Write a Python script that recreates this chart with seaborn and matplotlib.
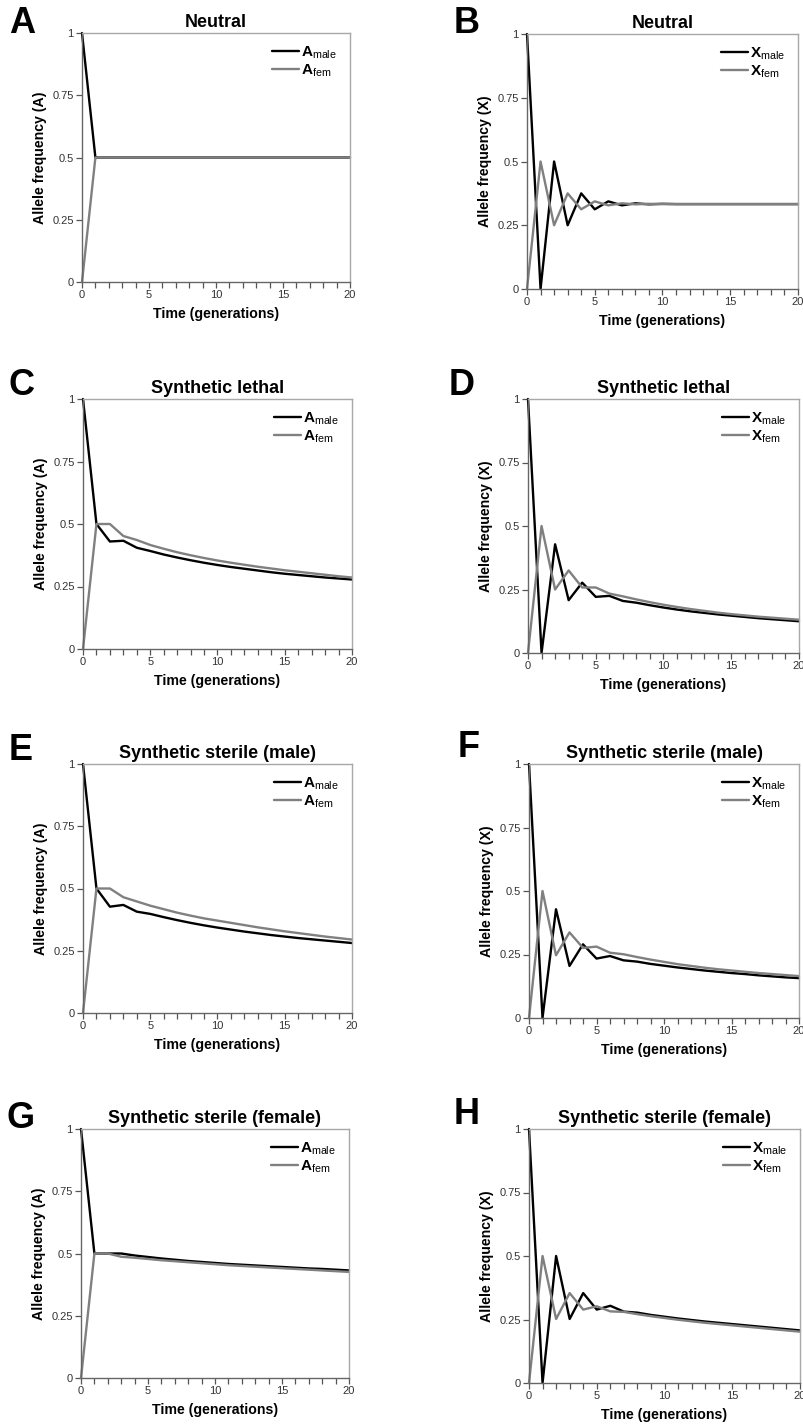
import numpy as np
import pandas as pd
import matplotlib
matplotlib.use("Agg")
import matplotlib.pyplot as plt
import seaborn as sns

# ---------------- data ----------------
generations = list(range(21))

# A: Neutral (autosomal)
A_neutral_male = [1, 0.5] + [0.5] * 19
A_neutral_fem = [0, 0.5] + [0.5] * 19

# B: Neutral (X-linked)
X_neutral_male = [1, 0, 0.5, 0.25, 0.375, 0.3125, 0.34375, 0.328, 0.336, 0.332, 0.334,
                  0.333, 0.333, 0.333, 0.333, 0.333, 0.333, 0.333, 0.333, 0.333, 0.333]
X_neutral_fem = [0, 0.5, 0.25, 0.375, 0.3125, 0.34375, 0.328, 0.336, 0.332, 0.334, 0.333,
                 0.333, 0.333, 0.333, 0.333, 0.333, 0.333, 0.333, 0.333, 0.333, 0.333]

# C: Synthetic lethal (autosomal)
A_lethal_male = [1, 0.5, 0.43, 0.433, 0.405, 0.392, 0.378, 0.366, 0.355, 0.345, 0.336,
                 0.328, 0.321, 0.314, 0.307, 0.301, 0.296, 0.291, 0.286, 0.282, 0.278]
A_lethal_fem = [0, 0.5, 0.5, 0.452, 0.436, 0.416, 0.401, 0.387, 0.375, 0.364, 0.354,
                0.345, 0.337, 0.329, 0.322, 0.315, 0.309, 0.303, 0.297, 0.291, 0.286]

# D: Synthetic lethal (X-linked)
X_lethal_male = [1, 0, 0.428, 0.208, 0.277, 0.221, 0.225, 0.205, 0.198, 0.188, 0.179,
                 0.171, 0.164, 0.158, 0.152, 0.147, 0.142, 0.137, 0.133, 0.129, 0.125]
X_lethal_fem = [0, 0.5, 0.25, 0.325, 0.258, 0.258, 0.234, 0.223, 0.211, 0.2, 0.19,
                0.181, 0.173, 0.166, 0.159, 0.153, 0.148, 0.143, 0.139, 0.135, 0.131]

# E: Synthetic sterile (male), autosomal
A_sterm_male = [1, 0.5, 0.427, 0.434, 0.407, 0.398, 0.385, 0.373, 0.362, 0.352, 0.343,
                0.335, 0.327, 0.32, 0.313, 0.307, 0.301, 0.296, 0.291, 0.286, 0.281]
A_sterm_fem = [0, 0.5, 0.5, 0.465, 0.448, 0.431, 0.417, 0.403, 0.391, 0.38, 0.371,
               0.362, 0.353, 0.344, 0.336, 0.328, 0.321, 0.314, 0.307, 0.301, 0.295]

# F: Synthetic sterile (male), X-linked
X_sterm_male = [1, 0, 0.428, 0.205, 0.29, 0.234, 0.244, 0.227, 0.222, 0.213, 0.206,
                0.199, 0.193, 0.187, 0.182, 0.177, 0.173, 0.168, 0.164, 0.16, 0.157]
X_sterm_fem = [0, 0.5, 0.247, 0.337, 0.276, 0.281, 0.257, 0.251, 0.24, 0.23, 0.221,
               0.212, 0.205, 0.198, 0.192, 0.187, 0.182, 0.177, 0.173, 0.169, 0.165]

# G: Synthetic sterile (female), autosomal
A_sterf_male = [1, 0.5, 0.5, 0.5, 0.492, 0.486, 0.48, 0.475, 0.47, 0.466, 0.462,
                0.458, 0.455, 0.452, 0.449, 0.446, 0.443, 0.44, 0.438, 0.435, 0.432]
A_sterf_fem = [0, 0.5, 0.5, 0.487, 0.483, 0.478, 0.473, 0.469, 0.465, 0.461, 0.457,
               0.453, 0.45, 0.447, 0.444, 0.441, 0.438, 0.435, 0.432, 0.429, 0.426]

# H: Synthetic sterile (female), X-linked
X_sterf_male = [1, 0, 0.5, 0.252, 0.354, 0.289, 0.304, 0.281, 0.277, 0.268, 0.261,
                0.254, 0.248, 0.242, 0.237, 0.232, 0.227, 0.222, 0.217, 0.212, 0.207]
X_sterf_fem = [0, 0.5, 0.252, 0.354, 0.289, 0.302, 0.282, 0.28, 0.271, 0.263, 0.256,
               0.249, 0.243, 0.237, 0.232, 0.227, 0.222, 0.217, 0.212, 0.207, 0.202]

panel_letters = ["A", "B", "C", "D", "E", "F", "G", "H"]
panel_titles = ["Neutral", "Neutral", "Synthetic lethal", "Synthetic lethal",
                "Synthetic sterile (male)", "Synthetic sterile (male)",
                "Synthetic sterile (female)", "Synthetic sterile (female)"]
y_tick_values = [0, 0.25, 0.5, 0.75, 1]
y_tick_labels = ["0", "0.25", "0.5", "0.75", "1"]
x_tick_values = [0, 5, 10, 15, 20]

panels = [
    (A_neutral_male, A_neutral_fem, "A"),
    (X_neutral_male, X_neutral_fem, "X"),
    (A_lethal_male, A_lethal_fem, "A"),
    (X_lethal_male, X_lethal_fem, "X"),
    (A_sterm_male, A_sterm_fem, "A"),
    (X_sterm_male, X_sterm_fem, "X"),
    (A_sterf_male, A_sterf_fem, "A"),
    (X_sterf_male, X_sterf_fem, "X"),
]

# ---------------- style ----------------
sns.set_theme(style="white")
plt.rcParams["font.family"] = ["Liberation Sans", "DejaVu Sans"]
plt.rcParams["mathtext.fontset"] = "custom"
plt.rcParams["mathtext.rm"] = "Liberation Sans"
plt.rcParams["mathtext.bf"] = "Liberation Sans:bold"
plt.rcParams["mathtext.it"] = "Liberation Sans:italic"
plt.rcParams["text.color"] = "black"
plt.rcParams["axes.labelcolor"] = "black"
plt.rcParams["axes.titlecolor"] = "black"

W, H = 804, 1427
fig = plt.figure(figsize=(W / 100, H / 100), dpi=100)
fig.patch.set_facecolor("white")

# axes boxes in pixels: left, right, top, bottom
boxes = [
    (82, 350, 33, 282), (527, 798, 34, 289),
    (83, 352, 399, 649), (528, 799, 399, 653),
    (83, 352, 764, 1013), (529, 799, 764, 1018),
    (81, 349, 1129, 1378), (529, 800, 1129, 1383),
]
letter_pos = [(9, 33), (454, 33), (9, 395), (449, 395),
              (9, 760), (458, 757), (7, 1128), (454, 1124)]

for i, ((male, fem, sym), (l, r, t, b)) in enumerate(zip(panels, boxes)):
    ax = fig.add_axes([l / W, 1 - b / H, (r - l) / W, (b - t) / H])
    df = pd.DataFrame({"gen": generations, "male": male, "fem": fem})
    sns.lineplot(data=df, x="gen", y="male", ax=ax, color="black", linewidth=1.7,
                 label=r"$\mathbf{%s}_{\mathrm{male}}$" % sym, clip_on=False)
    sns.lineplot(data=df, x="gen", y="fem", ax=ax, color="#808080", linewidth=1.7,
                 label=r"$\mathbf{%s}_{\mathrm{fem}}$" % sym, clip_on=False)
    ax.set_xlim(0, 20)
    ax.set_ylim(0, 1)
    ax.set_xticks(x_tick_values)
    ax.set_xticks(generations, minor=True)
    ax.set_yticks(y_tick_values)
    ax.set_yticklabels(y_tick_labels)
    ax.tick_params(axis="both", which="both", direction="out", length=4, width=0.9,
                   color="#555555", labelsize=8, labelcolor="#333333", pad=2,
                   bottom=True, left=True)
    for side in ["left", "bottom"]:
        ax.spines[side].set_color("#666666")
        ax.spines[side].set_linewidth(1.0)
    for side in ["top", "right"]:
        ax.spines[side].set_color("#a8a8a8")
        ax.spines[side].set_linewidth(1.0)
    ax.set_xlabel("Time (generations)", fontsize=10.2, fontweight="bold", labelpad=5)
    ax.set_ylabel("Allele frequency (%s)" % sym, fontsize=10.2, fontweight="bold", labelpad=4)
    ax.set_title(panel_titles[i], fontsize=13, fontweight="bold", pad=4)
    leg = ax.legend(loc="upper right", bbox_to_anchor=(0.985, 0.99), frameon=False,
                    fontsize=11, handlelength=1.8, handletextpad=0.1,
                    labelspacing=0.1, borderaxespad=0.2)
    lx, ly = letter_pos[i]
    fig.text(lx / W, 1 - ly / H, panel_letters[i], fontsize=26, fontweight="bold",
             color="black", ha="left", va="baseline")

fig.savefig("out.png", dpi=100, facecolor="white")
